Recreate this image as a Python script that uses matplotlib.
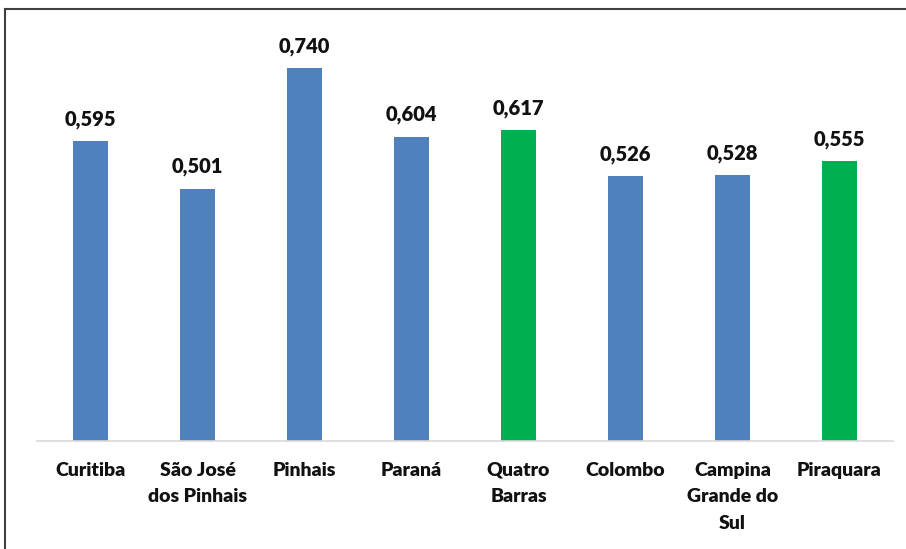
import matplotlib
matplotlib.use("Agg")
import matplotlib.pyplot as plt
from matplotlib.lines import Line2D

categories = ["Curitiba", "São José\ndos Pinhais", "Pinhais", "Paraná", "Quatro\nBarras",
              "Colombo", "Campina\nGrande do\nSul", "Piraquara"]
values = [0.595, 0.501, 0.740, 0.604, 0.617, 0.526, 0.528, 0.555]
highlight = [False, False, False, False, True, False, False, True]

BLUE = "#4F81BD"
GREEN = "#00B050"

plt.rcParams['font.family'] = ['Lato', 'DejaVu Sans']

W, H = 906, 549
fig = plt.figure(figsize=(W/100, H/100), dpi=100)
ax = fig.add_axes([37/W, (H-441)/H, (893-37)/W, (441-38)/H])

x = list(range(len(categories)))
colors = [GREEN if h else BLUE for h in highlight]
bars = ax.bar(x, values, width=0.32, color=colors, zorder=2)
ax.set_xlim(-0.5, len(categories)-0.5)
ax.set_ylim(0, 0.8)

for xi, v in zip(x, values):
    ax.annotate(f"{v:.3f}".replace(".", ","), (xi, v), xytext=(0, 9),
                textcoords="offset points", ha="center", va="bottom",
                fontsize=14.5, fontweight="heavy", color="#111111")

ax.set_xticks(x)
ax.set_xticklabels(categories, fontsize=14, fontweight="heavy", color="#111111",
                   linespacing=1.68, va="top")
ax.tick_params(axis="x", length=0, pad=15)
ax.set_yticks([])
for s in ["top", "right", "left"]:
    ax.spines[s].set_visible(False)
ax.spines["bottom"].set_color("#d9d9d9")
ax.spines["bottom"].set_linewidth(1.2)

# outer chart border (left and top edges visible)
fig.add_artist(Line2D([5/W, 5/W], [0, 1-9/H], transform=fig.transFigure, color="#404040", lw=1.5))
fig.add_artist(Line2D([5/W, 1], [1-9/H, 1-9/H], transform=fig.transFigure, color="#404040", lw=1.5))

fig.savefig("out.png", dpi=100)
